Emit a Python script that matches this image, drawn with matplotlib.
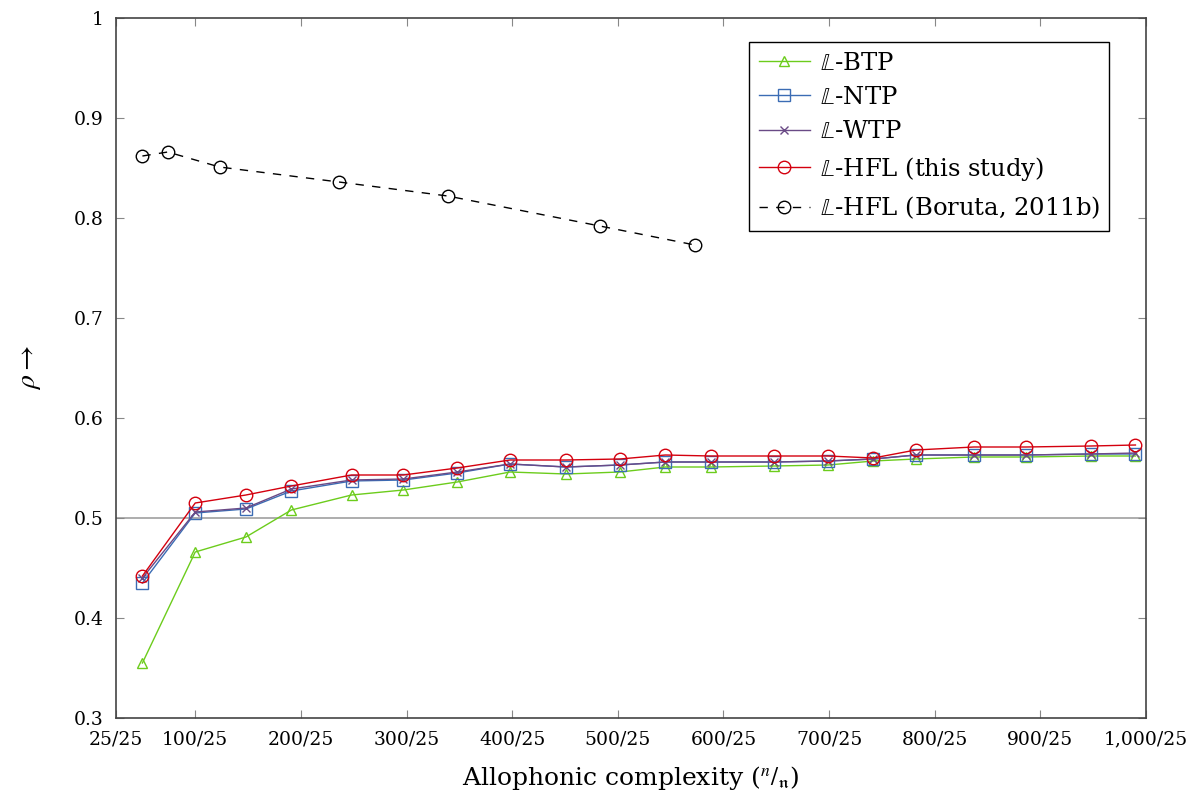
import matplotlib
matplotlib.use("Agg")
import matplotlib.pyplot as plt

# ---- data ----
x_main = [50, 100, 148, 191, 248, 297, 348, 398, 451, 502, 545, 588, 648, 699, 742, 782, 837, 886, 948, 990]
btp = [0.355, 0.466, 0.481, 0.508, 0.523, 0.528, 0.536, 0.546, 0.544, 0.546,
       0.551, 0.551, 0.552, 0.553, 0.557, 0.559, 0.561, 0.561, 0.562, 0.562]
ntp = [0.435, 0.505, 0.509, 0.527, 0.537, 0.538, 0.545, 0.554, 0.551, 0.553,
       0.556, 0.556, 0.556, 0.557, 0.559, 0.563, 0.563, 0.563, 0.564, 0.564]
wtp = [0.440, 0.506, 0.510, 0.529, 0.538, 0.539, 0.546, 0.554, 0.551, 0.553,
       0.556, 0.556, 0.556, 0.557, 0.559, 0.563, 0.563, 0.563, 0.564, 0.565]
hfl = [0.442, 0.515, 0.523, 0.532, 0.543, 0.543, 0.550, 0.558, 0.558, 0.559,
       0.563, 0.562, 0.562, 0.562, 0.560, 0.568, 0.571, 0.571, 0.572, 0.573]
x_boruta = [50, 74, 123, 236, 339, 483, 573]
boruta = [0.862, 0.866, 0.851, 0.836, 0.822, 0.792, 0.773]

x_ticks = [25, 100, 200, 300, 400, 500, 600, 700, 800, 900, 1000]
x_tick_labels = ["25/25", "100/25", "200/25", "300/25", "400/25", "500/25",
                 "600/25", "700/25", "800/25", "900/25", "1,000/25"]
y_ticks = [0.3, 0.4, 0.5, 0.6, 0.7, 0.8, 0.9, 1.0]
y_tick_labels = ["0.3", "0.4", "0.5", "0.6", "0.7", "0.8", "0.9", "1"]

labels = [r"$\mathbb{L}$-BTP", r"$\mathbb{L}$-NTP", r"$\mathbb{L}$-WTP",
          r"$\mathbb{L}$-HFL (this study)", r"$\mathbb{L}$-HFL (Boruta, 2011b)"]

# ---- style ----
plt.rcParams['font.family'] = ['DejaVu Serif']
plt.rcParams['mathtext.fontset'] = 'stix'

fig = plt.figure(figsize=(11.86, 7.96), dpi=100)
ax = fig.add_axes([116/1186, 1 - 718/796, (1146-116)/1186, (718-18)/796])

ax.axhline(0.5, color='#a0a0a0', lw=1.2, zorder=1)

lw = 1.0
ax.plot(x_main, btp, color='#6ccc1c', lw=lw, marker='^', ms=7.5, mfc='none',
        mec='#6ccc1c', mew=1.0, label=labels[0], zorder=3)
ax.plot(x_main, ntp, color='#3b6cb4', lw=lw, marker='s', ms=8, mfc='none',
        mec='#3b6cb4', mew=1.0, label=labels[1], zorder=4)
ax.plot(x_main, wtp, color='#6a4a86', lw=lw, marker='x', ms=6, mfc='none',
        mec='#6a4a86', mew=1.0, label=labels[2], zorder=5)
ax.plot(x_main, hfl, color='#d4000e', lw=lw, marker='o', ms=9, mfc='none',
        mec='#d4000e', mew=1.0, label=labels[3], zorder=6)
ax.plot(x_boruta, boruta, color='black', lw=lw, ls=(0, (6, 6)), marker='o', ms=9,
        mfc='none', mec='black', mew=1.0, label=labels[4], zorder=6)

ax.set_xlim(25, 1000)
ax.set_ylim(0.3, 1.0)
ax.set_xticks(x_ticks)
ax.set_xticklabels(x_tick_labels)
ax.set_yticks(y_ticks)
ax.set_yticklabels(y_tick_labels)

ax.tick_params(direction='in', top=True, right=True, length=6, width=0.8,
               color='#888888', labelsize=13.5, pad=9)
for s in ax.spines.values():
    s.set_color('#444444')
    s.set_linewidth(1.2)

ax.set_xlabel(r"Allophonic complexity ($^{n}/_{\mathfrak{n}}$)", fontsize=18, labelpad=11)
ax.set_ylabel(r"$\rho\rightarrow$", fontsize=20, labelpad=22)

leg = ax.legend(loc='upper right', bbox_to_anchor=(0.9645, 0.966), fontsize=17.5,
                frameon=True, fancybox=False, edgecolor='black', framealpha=1,
                handlelength=2.1, handletextpad=0.4, borderpad=0.4,
                labelspacing=0.47, borderaxespad=0)
leg.get_frame().set_linewidth(1.0)

fig.savefig("out.png", dpi=100)
